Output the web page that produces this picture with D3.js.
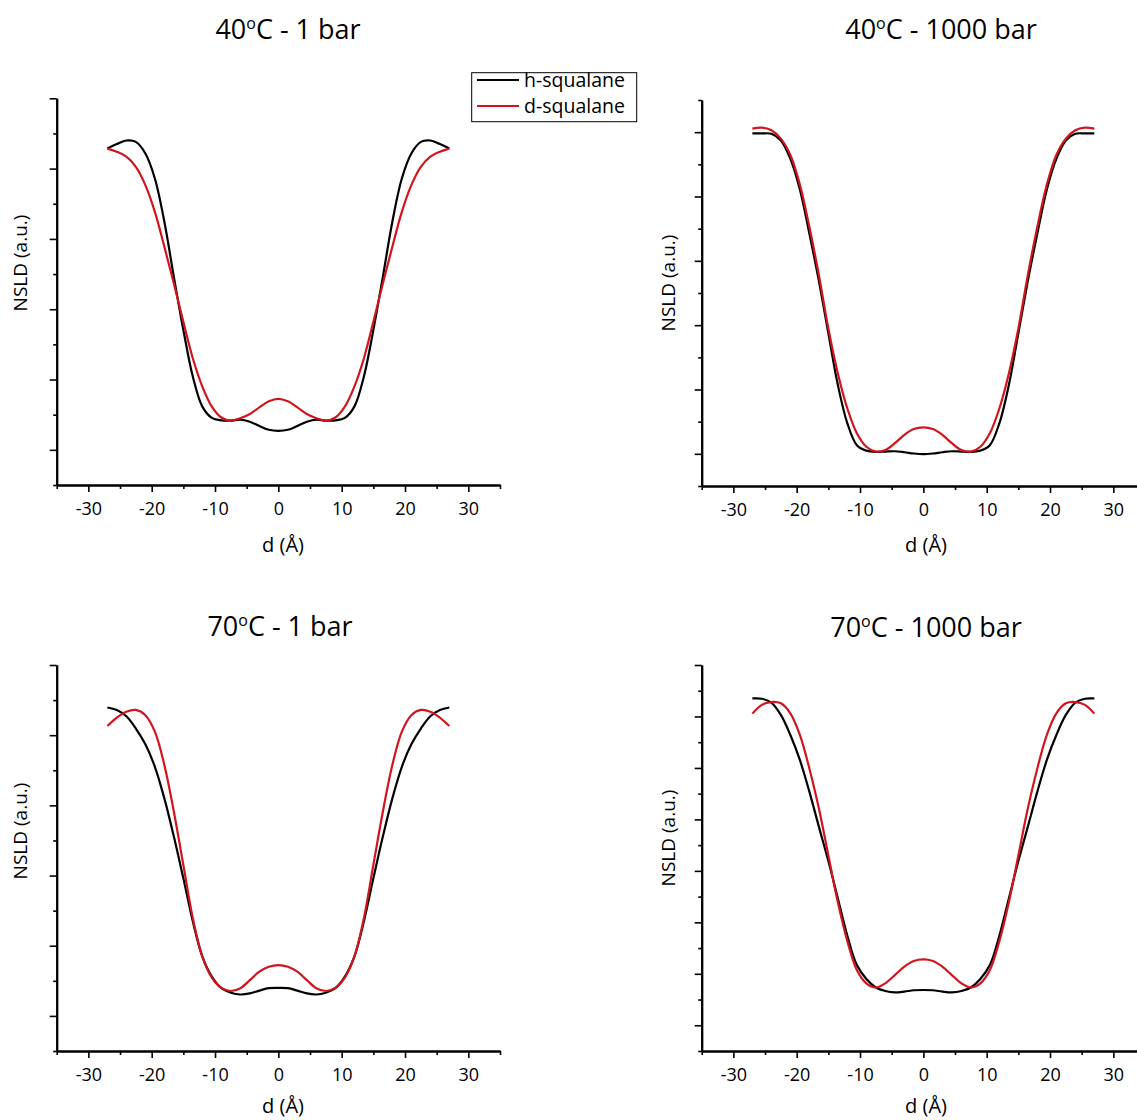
<!DOCTYPE html>
<html>
<head>
<meta charset="utf-8">
<script src="https://cdn.jsdelivr.net/npm/d3@7"></script>
<style>
  html, body { margin: 0; padding: 0; background: #fff; }
  svg { display: block; }
  text { font-family: "Open Sans", "Noto Sans", sans-serif; fill: #000; }
</style>
</head>
<body>
<svg id="chart" width="1137" height="1120"></svg>
<script>
// ---------------- DATA ----------------
const dGrid = [-27, -25.5, -24, -22.5, -21, -19.5, -18, -16.5, -15, -13.5, -12, -10.5, -9, -7.5, -6, -4.5, -3, -1.5, 0,
               1.5, 3, 4.5, 6, 7.5, 9, 10.5, 12, 13.5, 15, 16.5, 18, 19.5, 21, 22.5, 24, 25.5, 27];

const seriesNames = ["h-squalane", "d-squalane"];
const seriesColors = ["#000000", "#d2141c"];

// 40 C - 1 bar
const h40_1 = [9.57, 9.70, 9.80, 9.76, 9.43, 8.72, 7.49, 5.92, 4.41, 3.08, 2.23, 1.91, 1.84, 1.83, 1.86, 1.80, 1.68, 1.57, 1.54,
               1.57, 1.68, 1.80, 1.86, 1.83, 1.84, 1.91, 2.23, 3.08, 4.41, 5.92, 7.49, 8.72, 9.43, 9.76, 9.80, 9.70, 9.57];
const d40_1 = [9.57, 9.48, 9.34, 9.05, 8.53, 7.77, 6.78, 5.73, 4.64, 3.60, 2.80, 2.23, 1.92, 1.83, 1.90, 2.02, 2.21, 2.38, 2.45,
               2.38, 2.21, 2.02, 1.90, 1.83, 1.92, 2.23, 2.80, 3.60, 4.64, 5.73, 6.78, 7.77, 8.53, 9.05, 9.34, 9.48, 9.57];

// 40 C - 1000 bar
const h40_1000 = [10.96, 10.96, 10.95, 10.74, 10.17, 9.22, 7.85, 6.38, 4.75, 3.14, 1.95, 1.27, 1.10, 1.06, 1.07, 1.08, 1.05, 1.01, 0.99,
                  1.01, 1.05, 1.08, 1.07, 1.06, 1.10, 1.27, 1.95, 3.14, 4.75, 6.38, 7.85, 9.22, 10.17, 10.74, 10.95, 10.96, 10.96];
const d40_1000 = [11.11, 11.14, 11.06, 10.80, 10.29, 9.37, 8.06, 6.56, 4.90, 3.50, 2.41, 1.64, 1.22, 1.07, 1.12, 1.33, 1.59, 1.77, 1.82,
                  1.77, 1.59, 1.33, 1.12, 1.07, 1.22, 1.64, 2.41, 3.50, 4.90, 6.56, 8.06, 9.37, 10.29, 10.80, 11.06, 11.14, 11.11];

// 70 C - 1 bar
const h70_1 = [9.79, 9.72, 9.54, 9.19, 8.74, 8.10, 7.20, 6.11, 4.92, 3.69, 2.69, 2.12, 1.79, 1.66, 1.61, 1.64, 1.72, 1.79, 1.80,
               1.79, 1.72, 1.64, 1.61, 1.66, 1.79, 2.12, 2.69, 3.69, 4.92, 6.11, 7.20, 8.10, 8.74, 9.19, 9.54, 9.72, 9.79];
const d70_1 = [9.26, 9.50, 9.67, 9.72, 9.57, 9.10, 8.15, 6.82, 5.30, 3.78, 2.69, 2.09, 1.80, 1.71, 1.79, 2.02, 2.26, 2.40, 2.45,
               2.40, 2.26, 2.02, 1.79, 1.71, 1.80, 2.09, 2.69, 3.78, 5.30, 6.82, 8.15, 9.10, 9.57, 9.72, 9.67, 9.50, 9.26];

// 70 C - 1000 bar
const h70_1000 = [13.70, 13.69, 13.54, 13.06, 12.28, 11.31, 10.08, 8.72, 7.38, 5.93, 4.48, 3.34, 2.80, 2.47, 2.33, 2.28, 2.31, 2.36, 2.37,
                  2.36, 2.31, 2.28, 2.33, 2.47, 2.80, 3.34, 4.48, 5.93, 7.38, 8.72, 10.08, 11.31, 12.28, 13.06, 13.54, 13.69, 13.70];
const d70_1000 = [13.11, 13.45, 13.56, 13.51, 13.12, 12.28, 10.98, 9.43, 7.60, 5.78, 4.27, 3.15, 2.63, 2.47, 2.63, 2.95, 3.28, 3.50, 3.56,
                  3.50, 3.28, 2.95, 2.63, 2.47, 2.63, 3.15, 4.27, 5.78, 7.60, 9.43, 10.98, 12.28, 13.12, 13.51, 13.56, 13.45, 13.11];

const titleTemps = ["40", "40", "70", "70"];
const titlePressures = ["1 bar", "1000 bar", "1 bar", "1000 bar"];
const xMajorTicks = [-30, -20, -10, 0, 10, 20, 30];
const xMinorTicks = [-35, -25, -15, -5, 5, 15, 25, 35];
const xLabel = "d (Å)";
const yLabel = "NSLD (a.u.)";

// ---------------- LAYOUT ----------------
const panels = [
  { h: h40_1,    d: d40_1,    yMax: 11, left: 56.7,  top: 98.3, bottom: 485,  tx: 288, ty: 39.3, ylx: 20,  yly: 263, xlx: 283, xly: 552 },
  { h: h40_1000, d: d40_1000, yMax: 12, left: 701.7, top: 100,  bottom: 486,  tx: 941, ty: 39.3, ylx: 668, yly: 283, xlx: 926, xly: 552 },
  { h: h70_1,    d: d70_1,    yMax: 11, left: 56.7,  top: 665,  bottom: 1051, tx: 280, ty: 636,  ylx: 20,  yly: 831, xlx: 283, xly: 1113 },
  { h: h70_1000, d: d70_1000, yMax: 15, left: 701.7, top: 665,  bottom: 1051, tx: 926, ty: 637,  ylx: 668, yly: 838, xlx: 926, xly: 1113 }
];
const pxPerUnit = 6.333;

const svg = d3.select("#chart");

panels.forEach((p, i) => {
  const g = svg.append("g");
  const x = d3.scaleLinear().domain([-35, 35]).range([p.left, p.left + 70 * pxPerUnit]);
  const y = d3.scaleLinear().domain([0, p.yMax]).range([p.bottom, p.top]);

  const yAll = d3.range(0, p.yMax + 1);
  const yMajor = yAll.filter(v => v % 2 === 1);
  const yMinor = yAll.filter(v => v % 2 === 0);

  // y axis
  const yMinorAxis = g.append("g").attr("transform", `translate(${p.left},0)`)
    .call(d3.axisLeft(y).tickValues(yMinor).tickSize(3.5).tickSizeOuter(0).tickFormat(""));
  const yMajorAxis = g.append("g").attr("transform", `translate(${p.left},0)`)
    .call(d3.axisLeft(y).tickValues(yMajor).tickSize(7).tickSizeOuter(0).tickFormat(""));

  // x axis
  const xMinorAxis = g.append("g").attr("transform", `translate(0,${p.bottom})`)
    .call(d3.axisBottom(x).tickValues(xMinorTicks).tickSize(4).tickSizeOuter(0).tickFormat(""));
  const xMajorAxis = g.append("g").attr("transform", `translate(0,${p.bottom})`)
    .call(d3.axisBottom(x).tickValues(xMajorTicks).tickSize(7).tickSizeOuter(0).tickPadding(10)
      .tickFormat(d => String(d).replace("−", "-")));

  [yMinorAxis, yMajorAxis, xMinorAxis, xMajorAxis].forEach(a => {
    a.selectAll("path.domain").attr("stroke", "#000").attr("stroke-width", 2);
    a.selectAll(".tick line").attr("stroke", "#000").attr("stroke-width", 1.6);
  });
  xMajorAxis.selectAll(".tick text").attr("font-size", 18).attr("font-family", "Open Sans").attr("fill", "#000");

  // axis titles
  g.append("text").attr("x", p.xlx).attr("y", p.xly).attr("text-anchor", "middle")
    .attr("font-size", 20).text(xLabel);
  g.append("text").attr("transform", `translate(${p.ylx},${p.yly}) rotate(-90)`)
    .attr("text-anchor", "middle").attr("dy", "0.35em").attr("font-size", 19).text(yLabel);

  // title
  const t = g.append("text").attr("x", p.tx).attr("y", p.ty).attr("text-anchor", "middle").attr("font-size", 27);
  t.append("tspan").text(titleTemps[i]);
  t.append("tspan").attr("font-size", 16).attr("dy", -10).text("o");
  t.append("tspan").attr("dy", 10).text("C - " + titlePressures[i]);

  // curves
  const line = d3.line().x(d => x(d[0])).y(d => y(d[1])).curve(d3.curveCatmullRom.alpha(0.5));
  [p.h, p.d].forEach((vals, k) => {
    g.append("path")
      .datum(dGrid.map((dv, j) => [dv, vals[j]]))
      .attr("fill", "none")
      .attr("stroke", seriesColors[k])
      .attr("stroke-width", 2.2)
      .attr("d", line);
  });
});

// legend
const lg = svg.append("g");
lg.append("rect").attr("x", 471.7).attr("y", 72.7).attr("width", 165).attr("height", 49)
  .attr("fill", "#fff").attr("stroke", "#000").attr("stroke-width", 1);
seriesNames.forEach((name, k) => {
  const yy = 80 + k * 26;
  lg.append("line").attr("x1", 477).attr("x2", 519).attr("y1", yy).attr("y2", yy)
    .attr("stroke", seriesColors[k]).attr("stroke-width", 2);
  lg.append("text").attr("x", 524).attr("y", yy).attr("dy", "0.35em").attr("font-size", 19.5).text(name);
});
</script>
</body>
</html>
